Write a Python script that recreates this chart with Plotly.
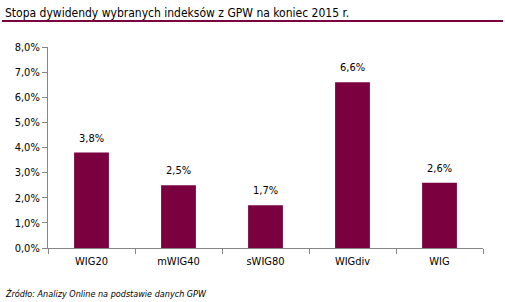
import plotly.graph_objects as go

categories = ["WIG20", "mWIG40", "sWIG80", "WIGdiv", "WIG"]
values = [3.8, 2.5, 1.7, 6.6, 2.6]
labels = ["3,8%", "2,5%", "1,7%", "6,6%", "2,6%"]
tick_vals = [0, 1, 2, 3, 4, 5, 6, 7, 8]
tick_text = ["0,0%", "1,0%", "2,0%", "3,0%", "4,0%", "5,0%", "6,0%", "7,0%", "8,0%"]

BAR = "#7A0040"
FONT = "Liberation Sans Narrow, DejaVu Sans Condensed, Arial Narrow, sans-serif"
W, H = 505, 302
L, R, T, B = 48, 22, 47, 54
pw = W - L - R
ph = H - T - B

fig = go.Figure()
fig.add_trace(go.Bar(x=categories, y=values, marker_color=BAR, marker_line_width=0,
                     hoverinfo="skip"))

for c, v, t in zip(categories, values, labels):
    fig.add_annotation(x=c, y=v, text=t, showarrow=False, yanchor="bottom",
                       yshift=6, font=dict(family=FONT, size=11, color="#000"))

fig.add_annotation(xref="paper", yref="paper", x=(3 - L) / pw, y=(H - B - 13) / ph,
                   xanchor="left", yanchor="middle", showarrow=False,
                   text="Stopa dywidendy wybranych indeksów z GPW na koniec 2015 r.",
                   font=dict(family=FONT, size=12, color="#000"))
fig.add_shape(type="line", xref="paper", yref="paper",
              x0=(2 - L) / pw, x1=(503 - L) / pw,
              y0=(H - B - 21) / ph, y1=(H - B - 21) / ph,
              line=dict(color=BAR, width=2))
fig.add_annotation(xref="paper", yref="paper", x=(3 - L) / pw, y=(H - B - 293) / ph,
                   xanchor="left", yanchor="middle", showarrow=False,
                   text="<i>Źródło: Analizy Online na podstawie danych GPW</i>",
                   font=dict(family=FONT, size=9, color="#000"))

fig.update_layout(
    width=W, height=H, margin=dict(l=L, r=R, t=T, b=B),
    paper_bgcolor="white", plot_bgcolor="white",
    bargap=0.6, showlegend=False,
    font=dict(family=FONT, size=11, color="#000"),
    xaxis=dict(showline=True, linecolor="#868686", linewidth=1,
               ticks="outside", ticklen=5, tickcolor="#868686",
               showgrid=False, tickson="boundaries", ticklabelstandoff=3,
               tickfont=dict(family=FONT, size=11)),
    yaxis=dict(range=[0, 8], tickvals=tick_vals, ticktext=tick_text,
               showline=True, linecolor="#868686", linewidth=1,
               ticks="outside", ticklen=5, tickcolor="#868686",
               showgrid=False, zeroline=False,
               tickfont=dict(family=FONT, size=11)),
)

fig.write_html("out.html")
